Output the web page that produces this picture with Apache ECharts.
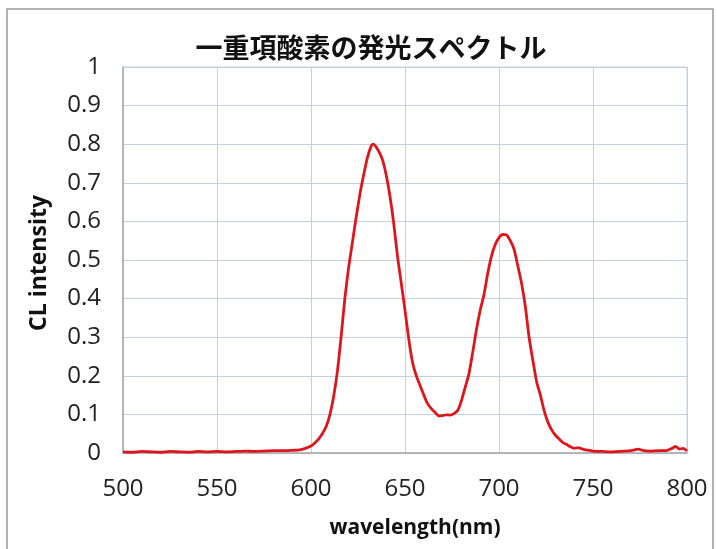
<!DOCTYPE html>
<html><head><meta charset="utf-8">
<script src="https://cdn.jsdelivr.net/npm/echarts@6/dist/echarts.min.js"></script>
<style>html,body{margin:0;padding:0;background:#fff}#c{width:717px;height:549px}</style>
</head><body><div id="c"></div>
<script>
const titleText = '一重項酸素の発光スペクトル';
const xName = 'wavelength(nm)';
const yName = 'CL intensity';
const wavelengths = [500,505,510,515,520,525,530,535,540,545,550,555,560,565,570,575,580,585,590,594,597,600,602,604,606,608,610,612,614,616,618,620,622,624,626,628,630,632,633,634,636,638,640,642,644,646,648,650,652,654,656,658,660,662,664,666,668,670,672,674,676,678,680,682,684,686,688,690,692,694,696,698,700,702,704,706,708,710,712,714,716,718,720,722,724,726,728,730,732,734,736,738,740,742,744,746,748,750,755,760,765,770,774,777,780,785,789,792,794,796,798,800];
const intensity = [0.003,0.002,0.004,0.003,0.002,0.004,0.003,0.002,0.004,0.003,0.004,0.003,0.004,0.005,0.004,0.005,0.006,0.006,0.007,0.008,0.012,0.018,0.026,0.036,0.05,0.068,0.098,0.145,0.21,0.3,0.4,0.48,0.545,0.61,0.67,0.72,0.765,0.795,0.8,0.797,0.782,0.76,0.72,0.665,0.595,0.51,0.44,0.37,0.295,0.235,0.2,0.175,0.15,0.128,0.115,0.105,0.096,0.097,0.099,0.098,0.102,0.11,0.135,0.17,0.205,0.26,0.32,0.37,0.41,0.465,0.51,0.54,0.558,0.566,0.565,0.55,0.528,0.485,0.44,0.38,0.3,0.24,0.185,0.15,0.11,0.08,0.06,0.046,0.036,0.027,0.022,0.016,0.012,0.014,0.011,0.008,0.007,0.005,0.004,0.003,0.004,0.006,0.01,0.006,0.005,0.006,0.006,0.012,0.017,0.01,0.012,0.005];

const chart = echarts.init(document.getElementById('c'), null, {renderer:'canvas'});
const gridColor = '#c3d0de';
const tickFont = {fontFamily:'Open Sans', fontSize:24, color:'#222'};
chart.setOption({
  animation:false,
  backgroundColor:'#fff',
  graphic:[{type:'rect', shape:{x:7,y:9,width:706,height:560}, style:{fill:'none', stroke:'#9a9a9a', lineWidth:1.5}, silent:true}],
  title:{text:titleText, left:366, top:29, textAlign:'center',
    textStyle:{fontFamily:'Noto Sans CJK JP', fontWeight:'bold', fontSize:27, color:'#111'}},
  grid:{left:123, right:30, top:67, bottom:96, show:true, borderColor:gridColor, borderWidth:1},
  xAxis:{type:'value', min:500, max:800, interval:50,
    name:xName, nameLocation:'middle', nameGap:65,
    nameTextStyle:{fontFamily:'Open Sans', fontWeight:'bold', fontSize:21, color:'#111', padding:[0,0,0,20]},
    axisLine:{show:true, lineStyle:{color:'#a8a8a8', width:1.5}},
    axisTick:{show:false},
    axisLabel:Object.assign({margin:24}, tickFont),
    splitLine:{show:true, lineStyle:{color:gridColor, width:1}}},
  yAxis:{type:'value', min:0, max:1, interval:0.1,
    name:yName, nameLocation:'middle', nameGap:72, nameRotate:90,
    nameTextStyle:{fontFamily:'Open Sans', fontWeight:'bold', fontSize:23, color:'#111', padding:[0,0,0,-6]},
    axisLine:{show:true, lineStyle:{color:'#a8a8a8', width:1.5}},
    axisTick:{show:false},
    axisLabel:Object.assign({margin:22, formatter:v=>String(+v.toFixed(1))}, tickFont),
    splitLine:{show:true, lineStyle:{color:gridColor, width:1}}},
  series:[{type:'line', data:wavelengths.map((w,i)=>[w,intensity[i]]), showSymbol:false,
    lineStyle:{color:'#e0151c', width:2.8}, smooth:0.2}]
});
</script></body></html>
